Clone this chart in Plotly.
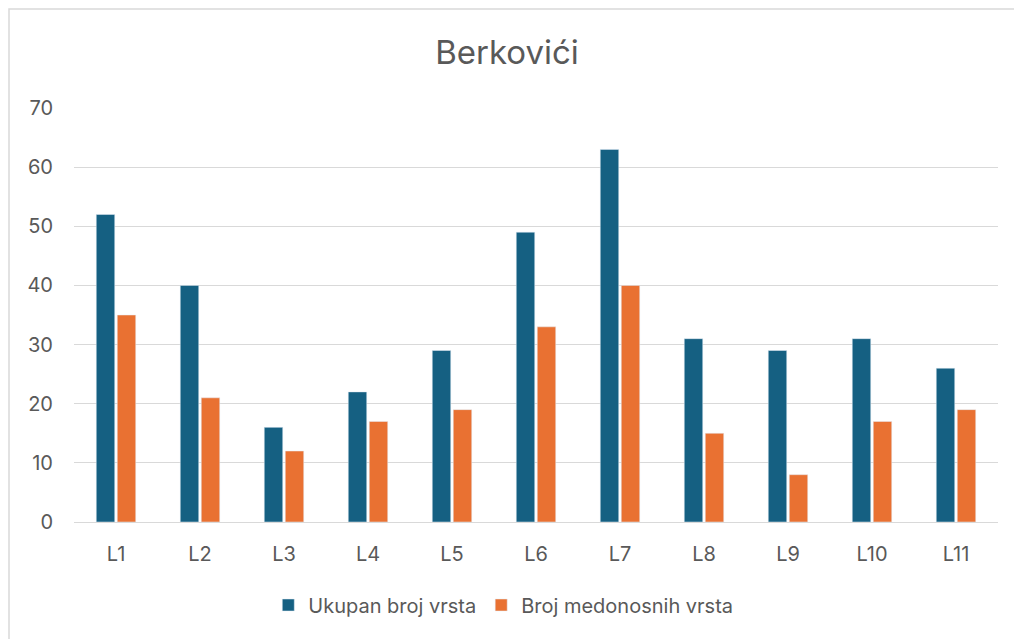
import plotly.graph_objects as go

categories = ["L1", "L2", "L3", "L4", "L5", "L6", "L7", "L8", "L9", "L10", "L11"]
ukupan = [52, 40, 16, 22, 29, 49, 63, 31, 29, 31, 26]
medonosnih = [35, 21, 12, 17, 19, 33, 40, 15, 8, 17, 19]
series_names = ["Ukupan broj vrsta", "Broj medonosnih vrsta"]
colors = ["#156082", "#E97132"]

fig = go.Figure()
fig.add_trace(go.Bar(x=categories, y=ukupan, name=series_names[0], marker_color=colors[0]))
fig.add_trace(go.Bar(x=categories, y=medonosnih, name=series_names[1], marker_color=colors[1]))

L, R, T, B = 74, 16, 108, 117
W, H = 1014, 639
pw, ph = W - L - R, H - T - B

fig.update_layout(
    width=W, height=H,
    margin=dict(l=L, r=R, t=T, b=B, pad=0),
    paper_bgcolor="white", plot_bgcolor="white",
    font=dict(family="Inter, Open Sans, sans-serif", color="#595959", size=20),
    title=dict(text="Berkovići", x=0.5, xanchor="center", y=1 - 52 / H, yanchor="middle",
               font=dict(size=33, color="#595959")),
    barmode="group", bargap=0.5, bargroupgap=0.12,
    legend=dict(orientation="h", x=0.4646, xanchor="center", y=-(605 - 522) / ph, yanchor="middle",
                font=dict(size=20, color="#595959"), itemwidth=30, traceorder="normal"),
    showlegend=True,
)
fig.update_yaxes(range=[0, 70], dtick=10, showgrid=True, gridcolor="#D9D9D9", gridwidth=1,
                 zeroline=True, zerolinecolor="#D9D9D9", zerolinewidth=1,
                 tickfont=dict(size=20, color="#595959"), ticks="", ticklabelstandoff=20)
fig.update_xaxes(showline=True, linecolor="#D9D9D9", linewidth=1, ticks="",
                 tickfont=dict(size=20, color="#595959"), ticklabelstandoff=14)

fig.add_shape(type="rect", xref="paper", yref="paper",
              x0=(9 - L) / pw, x1=(W + 5 - L) / pw,
              y0=-(H + 5 - (T + ph)) / ph, y1=((T + ph) - 9) / ph,
              line=dict(color="#D9D9D9", width=1.5), fillcolor="rgba(0,0,0,0)", layer="below")

fig.write_html("out.html", config={"displayModeBar": False},
               post_script="document.body.style.margin='0';")
